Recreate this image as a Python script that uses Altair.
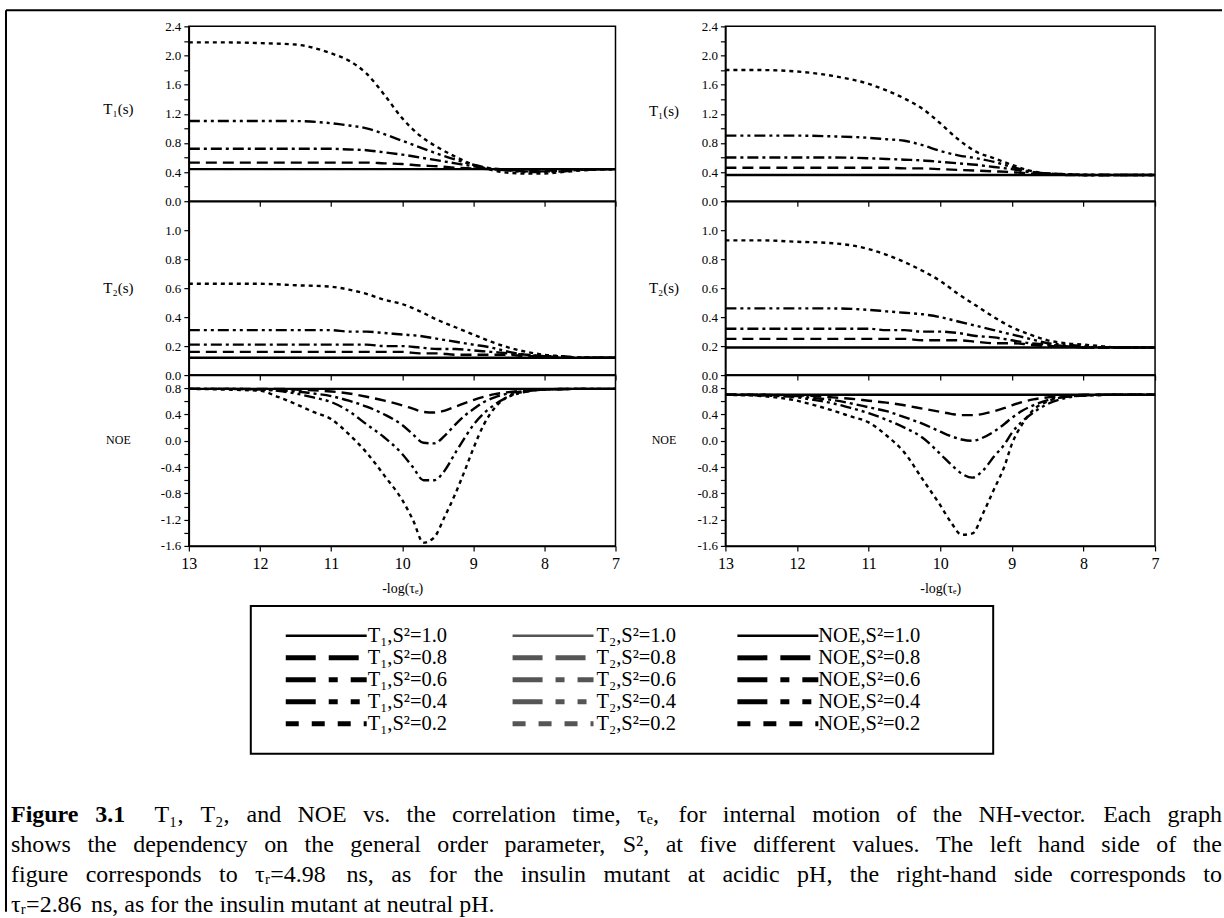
import altair as alt
import pandas as pd

FONT = "Liberation Serif"

# ---------------- data ----------------
S2_LEVELS = ["1.0", "0.8", "0.6", "0.4", "0.2"]
X_TICKS = [13, 12, 11, 10, 9, 8, 7]

# x grid for T1 / T2 panels: -log(tau_e)
X_T = [13, 12.5, 12, 11.5, 11, 10.75, 10.5, 10.25, 10, 9.75, 9.5, 9.25, 9, 8.75, 8.5, 8.25, 8, 7.75, 7.5, 7]
# x grid for NOE panels
X_N = [13, 12.5, 12, 11.75, 11.5, 11.25, 11, 10.75, 10.5, 10.25, 10, 9.85, 9.7, 9.55, 9.4, 9.25, 9.1, 9, 8.85, 8.7, 8.5, 8.25, 8, 7.5, 7]

# Left side (tau_r = 4.98 ns) -- T1 (s)
L_T1_10 = [0.44, 0.44, 0.44, 0.44, 0.44, 0.44, 0.44, 0.44, 0.44, 0.44, 0.44, 0.44, 0.44, 0.44, 0.44, 0.44, 0.44, 0.44, 0.44, 0.44]
L_T1_08 = [0.53, 0.53, 0.53, 0.53, 0.53, 0.53, 0.53, 0.52, 0.51, 0.49, 0.48, 0.46, 0.45, 0.44, 0.43, 0.42, 0.42, 0.43, 0.44, 0.44]
L_T1_06 = [0.72, 0.72, 0.72, 0.72, 0.72, 0.71, 0.70, 0.67, 0.64, 0.60, 0.56, 0.52, 0.48, 0.45, 0.43, 0.41, 0.41, 0.42, 0.43, 0.44]
L_T1_04 = [1.10, 1.10, 1.10, 1.10, 1.07, 1.04, 1.00, 0.92, 0.83, 0.74, 0.65, 0.57, 0.50, 0.45, 0.42, 0.40, 0.40, 0.41, 0.43, 0.44]
L_T1_02 = [2.18, 2.18, 2.17, 2.15, 2.03, 1.93, 1.75, 1.46, 1.14, 0.90, 0.74, 0.61, 0.50, 0.43, 0.39, 0.38, 0.38, 0.40, 0.42, 0.44]

# Left side -- T2 (s)
L_T2_10 = [0.12, 0.12, 0.12, 0.12, 0.12, 0.12, 0.12, 0.12, 0.12, 0.12, 0.12, 0.12, 0.12, 0.12, 0.12, 0.12, 0.12, 0.12, 0.12, 0.12]
L_T2_08 = [0.16, 0.16, 0.16, 0.16, 0.16, 0.16, 0.16, 0.16, 0.16, 0.15, 0.15, 0.14, 0.14, 0.14, 0.14, 0.13, 0.13, 0.12, 0.12, 0.12]
L_T2_06 = [0.21, 0.21, 0.21, 0.21, 0.21, 0.21, 0.21, 0.20, 0.20, 0.19, 0.18, 0.18, 0.17, 0.16, 0.15, 0.14, 0.13, 0.13, 0.12, 0.12]
L_T2_04 = [0.31, 0.31, 0.31, 0.31, 0.31, 0.30, 0.30, 0.29, 0.28, 0.27, 0.25, 0.23, 0.21, 0.19, 0.16, 0.14, 0.13, 0.12, 0.12, 0.12]
L_T2_02 = [0.63, 0.63, 0.63, 0.62, 0.61, 0.59, 0.56, 0.52, 0.49, 0.44, 0.38, 0.33, 0.28, 0.23, 0.19, 0.16, 0.14, 0.13, 0.12, 0.12]

# Left side -- NOE
L_N_10 = [0.79, 0.79, 0.79, 0.79, 0.79, 0.79, 0.79, 0.79, 0.79, 0.79, 0.79, 0.79, 0.79, 0.79, 0.79, 0.79, 0.79, 0.79, 0.79, 0.79, 0.79, 0.79, 0.79, 0.79, 0.79]
L_N_08 = [0.79, 0.79, 0.79, 0.79, 0.78, 0.77, 0.75, 0.72, 0.67, 0.61, 0.54, 0.49, 0.44, 0.43, 0.46, 0.52, 0.58, 0.62, 0.67, 0.71, 0.74, 0.77, 0.78, 0.79, 0.79]
L_N_06 = [0.79, 0.79, 0.78, 0.77, 0.75, 0.72, 0.68, 0.61, 0.52, 0.40, 0.24, 0.10, -0.03, -0.04, 0.08, 0.25, 0.40, 0.48, 0.59, 0.66, 0.72, 0.76, 0.78, 0.79, 0.79]
L_N_04 = [0.79, 0.79, 0.78, 0.76, 0.72, 0.66, 0.59, 0.45, 0.25, 0.05, -0.20, -0.40, -0.60, -0.60, -0.45, -0.18, 0.08, 0.24, 0.42, 0.55, 0.67, 0.75, 0.78, 0.79, 0.79]
L_N_02 = [0.79, 0.78, 0.76, 0.67, 0.56, 0.44, 0.33, 0.10, -0.18, -0.53, -0.90, -1.20, -1.55, -1.47, -1.15, -0.80, -0.40, -0.12, 0.25, 0.50, 0.68, 0.75, 0.78, 0.79, 0.79]

# Right side (tau_r = 2.86 ns) -- T1 (s)
R_T1_10 = [0.36, 0.36, 0.36, 0.36, 0.36, 0.36, 0.36, 0.36, 0.36, 0.36, 0.36, 0.36, 0.36, 0.36, 0.36, 0.36, 0.36, 0.36, 0.36, 0.36]
R_T1_08 = [0.46, 0.46, 0.46, 0.46, 0.46, 0.46, 0.45, 0.45, 0.44, 0.43, 0.42, 0.41, 0.40, 0.38, 0.37, 0.36, 0.36, 0.36, 0.36, 0.36]
R_T1_06 = [0.60, 0.60, 0.60, 0.60, 0.59, 0.58, 0.57, 0.56, 0.54, 0.52, 0.50, 0.47, 0.44, 0.40, 0.38, 0.37, 0.36, 0.36, 0.36, 0.36]
R_T1_04 = [0.90, 0.90, 0.90, 0.89, 0.87, 0.85, 0.83, 0.77, 0.69, 0.63, 0.59, 0.54, 0.47, 0.41, 0.38, 0.37, 0.36, 0.36, 0.36, 0.36]
R_T1_02 = [1.80, 1.80, 1.78, 1.72, 1.61, 1.52, 1.41, 1.27, 1.07, 0.85, 0.68, 0.59, 0.50, 0.42, 0.38, 0.37, 0.36, 0.36, 0.36, 0.36]

# Right side -- T2 (s)
R_T2_10 = [0.19, 0.19, 0.19, 0.19, 0.19, 0.19, 0.19, 0.19, 0.19, 0.19, 0.19, 0.19, 0.19, 0.19, 0.19, 0.19, 0.19, 0.19, 0.19, 0.19]
R_T2_08 = [0.25, 0.25, 0.25, 0.25, 0.25, 0.25, 0.25, 0.24, 0.24, 0.24, 0.23, 0.22, 0.22, 0.21, 0.20, 0.20, 0.19, 0.19, 0.19, 0.19]
R_T2_06 = [0.32, 0.32, 0.32, 0.32, 0.32, 0.31, 0.31, 0.30, 0.30, 0.29, 0.27, 0.26, 0.24, 0.22, 0.21, 0.20, 0.19, 0.19, 0.19, 0.19]
R_T2_04 = [0.46, 0.46, 0.46, 0.46, 0.45, 0.44, 0.43, 0.42, 0.40, 0.37, 0.34, 0.31, 0.28, 0.25, 0.22, 0.21, 0.20, 0.19, 0.19, 0.19]
R_T2_02 = [0.93, 0.93, 0.92, 0.91, 0.87, 0.83, 0.78, 0.72, 0.65, 0.56, 0.48, 0.40, 0.33, 0.28, 0.24, 0.22, 0.21, 0.20, 0.19, 0.19]

# Right side -- NOE
R_N_10 = [0.70, 0.70, 0.70, 0.70, 0.70, 0.70, 0.70, 0.70, 0.70, 0.70, 0.70, 0.70, 0.70, 0.70, 0.70, 0.70, 0.70, 0.70, 0.70, 0.70, 0.70, 0.70, 0.70, 0.70, 0.70]
R_N_08 = [0.70, 0.70, 0.69, 0.68, 0.66, 0.64, 0.61, 0.58, 0.54, 0.49, 0.44, 0.41, 0.39, 0.39, 0.41, 0.45, 0.50, 0.54, 0.59, 0.63, 0.66, 0.68, 0.70, 0.70, 0.70]
R_N_06 = [0.70, 0.70, 0.68, 0.65, 0.62, 0.57, 0.51, 0.45, 0.36, 0.26, 0.14, 0.07, 0.02, 0.00, 0.05, 0.14, 0.26, 0.35, 0.46, 0.54, 0.62, 0.67, 0.69, 0.70, 0.70]
R_N_04 = [0.70, 0.69, 0.66, 0.62, 0.57, 0.50, 0.42, 0.32, 0.20, 0.05, -0.20, -0.36, -0.50, -0.56, -0.45, -0.24, -0.05, 0.12, 0.30, 0.43, 0.56, 0.65, 0.69, 0.70, 0.70]
R_N_02 = [0.70, 0.68, 0.61, 0.54, 0.46, 0.37, 0.28, 0.08, -0.18, -0.58, -0.98, -1.24, -1.43, -1.41, -1.10, -0.74, -0.38, -0.05, 0.26, 0.47, 0.60, 0.67, 0.69, 0.70, 0.70]

# axis values
T1_VALUES = [0.0, 0.2, 0.4, 0.6, 0.8, 1.0, 1.2, 1.4, 1.6, 1.8, 2.0, 2.2, 2.4]
T2_VALUES = [0.0, 0.2, 0.4, 0.6, 0.8, 1.0]
NOE_VALUES = [-1.6, -1.4, -1.2, -1.0, -0.8, -0.6, -0.4, -0.2, 0.0, 0.2, 0.4, 0.6, 0.8]

# legend + caption text
LEG_NAMES = ["T\u2081", "T\u2082", "NOE"]
CAPTION_BOLD = "Figure 3.1"
CAPTION_LINES = [
    "T\u2081, T\u2082, and NOE vs. the correlation time, \u03c4\u2091, for internal motion of the NH-vector. Each graph",
    "shows the dependency on the general order parameter, S\u00b2, at five different values. The left hand side of the",
    "figure corresponds to \u03c4\u1d63=4.98 ns, as for the insulin mutant at acidic pH, the right-hand side corresponds to",
    "\u03c4\u1d63=2.86 ns, as for the insulin mutant at neutral pH.",
]
CAPTION_JUSTIFIED = [True, True, True, False]

# ---------------- helpers ----------------
ONE = pd.DataFrame({"a": [0]})


def make_df(xs, series):
    rows = []
    for s2, vals in zip(S2_LEVELS, series):
        for x, v in zip(xs, vals):
            rows.append({"x": x, "v": v, "S2": s2})
    return pd.DataFrame(rows)


DASH = alt.Scale(domain=S2_LEVELS,
                 range=[[1, 0], [11, 6], [11, 4, 3, 4], [11, 4, 3, 4, 3, 4], [4, 4]])

LABEL4 = ("(abs(round(datum.value*10)) % 4 == 0) ? "
          "((datum.value < -0.001 ? '-' : '') + format(abs(datum.value), '.1f')) : ''")
LABEL2 = "(datum.value < -0.001 ? '-' : '') + format(abs(datum.value), '.1f')"


def panel(df, ydom, yvals, lexpr, title, tsize, tx, ty, w, h, show_x):
    xkw = dict(values=X_TICKS, tickSize=5, tickColor="black", tickWidth=1.2,
               domainColor="black", domainWidth=1.5, grid=False, labelFlush=False,
               labelOverlap=False, format="d")
    if show_x:
        xkw.update(labels=True, labelFont=FONT, labelFontSize=16, labelColor="black",
                   labelPadding=5, title="-log(\u03c4\u2091)", titleFont=FONT,
                   titleFontSize=14, titleFontWeight="normal", titleColor="black",
                   titlePadding=10)
    else:
        xkw.update(labels=False, title="")
    ykw = dict(values=yvals, labelExpr=lexpr, tickSize=5, tickColor="black",
               tickWidth=1.2, domainColor="black", domainWidth=1.5, grid=False,
               labelFont=FONT, labelFontSize=13, labelColor="black", labelPadding=3,
               labelOverlap=False, labelFlush=False,
               title=title, titleAngle=0, titleX=tx, titleY=ty, titleAlign="center",
               titleBaseline="middle", titleFont=FONT, titleFontSize=tsize,
               titleFontWeight="normal", titleColor="black")
    return alt.Chart(df).mark_line(color="black", strokeWidth=2.4,
                                   interpolate="monotone").encode(
        x=alt.X("x:Q", scale=alt.Scale(domain=[7, 13], reverse=True, nice=False, zero=False),
                axis=alt.Axis(**xkw)),
        y=alt.Y("v:Q", scale=alt.Scale(domain=ydom, nice=False, zero=False),
                axis=alt.Axis(**ykw)),
        strokeDash=alt.StrokeDash("S2:N", scale=DASH, legend=None),
        detail="S2:N",
    ).properties(width=w, height=h)


def spacer(w, h):
    return alt.Chart(ONE).mark_point(opacity=0).encode(
        x=alt.value(0), y=alt.value(0)
    ).properties(width=w, height=h, view=alt.ViewBackground(strokeOpacity=0))


WL, WR = 427, 430
H1, H2, H3 = 175, 174, 171

t1l = panel(make_df(X_T, [L_T1_10, L_T1_08, L_T1_06, L_T1_04, L_T1_02]), [0, 2.4], T1_VALUES,
            LABEL4, "T\u2081(s)", 15, -71, 82, WL, H1, False)
frame_top = alt.Chart(ONE).mark_rule(color="black", strokeWidth=2).encode(
    x=alt.value(-183), x2=alt.value(1034), y=alt.value(-16))
t1l = alt.layer(t1l, frame_top)
t2l = panel(make_df(X_T, [L_T2_10, L_T2_08, L_T2_06, L_T2_04, L_T2_02]), [0, 1.2], T2_VALUES,
            LABEL2, "T\u2082(s)", 15, -71, 86, WL, H2, False)
nol = panel(make_df(X_N, [L_N_10, L_N_08, L_N_06, L_N_04, L_N_02]), [-1.6, 1.0], NOE_VALUES,
            LABEL4, "NOE", 12, -71, 64, WL, H3, True)

t1r = panel(make_df(X_T, [R_T1_10, R_T1_08, R_T1_06, R_T1_04, R_T1_02]), [0, 2.4], T1_VALUES,
            LABEL4, "T\u2081(s)", 15, -62, 84, WR, H1, False)
t2r = panel(make_df(X_T, [R_T2_10, R_T2_08, R_T2_06, R_T2_04, R_T2_02]), [0, 1.2], T2_VALUES,
            LABEL2, "T\u2082(s)", 15, -62, 86, WR, H2, False)
nor = panel(make_df(X_N, [R_N_10, R_N_08, R_N_06, R_N_04, R_N_02]), [-1.6, 1.0], NOE_VALUES,
            LABEL4, "NOE", 12, -62, 64, WR, H3, True)

# ---------------- legend ----------------
LEG_LINE_X0 = [97, 324, 549]
LEG_TEXT_X = [179, 408, 630]
LEG_LINE_LEN = 81
leg_rows = []
for c, name in enumerate(LEG_NAMES):
    for r, s2 in enumerate(S2_LEVELS):
        leg_rows.append({"col": c, "row": r, "S2": s2,
                         "label": f"{name},S\u00b2={s2}",
                         "x0": LEG_LINE_X0[c], "x1": LEG_LINE_X0[c] + LEG_LINE_LEN,
                         "xt": LEG_TEXT_X[c], "shade": "g" if c == 1 else "k"})
leg_df = pd.DataFrame(leg_rows)
LEG_DASH = {"1.0": [1, 0], "0.8": [30, 13], "0.6": [30, 13, 9, 13],
            "0.4": [30, 13, 9, 13, 9, 13], "0.2": [13, 13]}
LEG_W = {"1.0": 2.5, "0.8": 5, "0.6": 5, "0.4": 5, "0.2": 5}
lx = alt.Scale(domain=[0, 805], range=[0, 805], nice=False, zero=False)
ly = alt.Scale(domain=[0, 4], range=[30, 118], nice=False, zero=False)
leg_layers = []
for s2 in S2_LEVELS:
    leg_layers.append(
        alt.Chart(leg_df).transform_filter(alt.datum.S2 == s2).mark_rule(
            strokeDash=LEG_DASH[s2], strokeWidth=LEG_W[s2]).encode(
            x=alt.X("x0:Q", scale=lx, axis=None), x2="x1:Q",
            y=alt.Y("row:Q", scale=ly, axis=None),
            color=alt.Color("shade:N", scale=alt.Scale(domain=["k", "g"], range=["#000000", "#555555"]),
                            legend=None)))
leg_text = alt.Chart(leg_df).mark_text(align="left", baseline="middle", font=FONT,
                                       fontSize=20.5, color="black").encode(
    x=alt.X("xt:Q", scale=lx, axis=None), y=alt.Y("row:Q", scale=ly, axis=None), text="label:N")
leg_box = alt.Chart(ONE).mark_rect(stroke="black", strokeWidth=2, fillOpacity=0).encode(
    x=alt.value(62), x2=alt.value(805), y=alt.value(0), y2=alt.value(148))
legend = alt.layer(leg_box, *leg_layers, leg_text).properties(
    width=WL, height=148, view=alt.ViewBackground(strokeOpacity=0))

# ---------------- caption (justified word by word) ----------------
CAP_SIZE = 24
CAP_LEFT, CAP_RIGHT = -178, 1034   # relative to the left plot's axis
# Times New Roman advance widths (1/1000 em)
REG_W = {" ": 250, ",": 250, ".": 250, "-": 333, "=": 564, "(": 333, ")": 333,
         "a": 444, "b": 500, "c": 444, "d": 500, "e": 444, "f": 333, "g": 500, "h": 500,
         "i": 278, "j": 278, "k": 500, "l": 278, "m": 778, "n": 500, "o": 500, "p": 500,
         "q": 500, "r": 333, "s": 389, "t": 278, "u": 500, "v": 500, "w": 722, "x": 500,
         "y": 500, "z": 444, "E": 611, "F": 556, "H": 722, "N": 722, "O": 722, "S": 556,
         "T": 611, "\u03c4": 440, "\u2081": 380, "\u2082": 380, "\u2091": 360,
         "\u1d63": 330, "\u00b2": 300}
BOLD_W = {"F": 611, "i": 278, "g": 500, "u": 556, "r": 444, "e": 444, "3": 500,
          ".": 250, "1": 500}


def text_width(s, bold):
    tbl = BOLD_W if bold else REG_W
    return sum(tbl.get(ch, 500) for ch in s) * CAP_SIZE / 1000.0


word_rows = []
for li, (line, just) in enumerate(zip(CAPTION_LINES, CAPTION_JUSTIFIED)):
    toks = [(w, False) for w in line.split(" ")]
    weights = [1.0] * (len(toks) - 1)
    if li == 0:
        toks = [(w, True) for w in CAPTION_BOLD.split(" ")] + toks
        weights = [1.0, 1.8] + weights
    widths = [text_width(t, b) for t, b in toks]
    if just:
        gap_unit = (CAP_RIGHT - CAP_LEFT - sum(widths)) / sum(weights)
    else:
        gap_unit = 0.25 * CAP_SIZE
    x = CAP_LEFT
    for k, ((t, b), w) in enumerate(zip(toks, widths)):
        word_rows.append({"line": li, "x": x, "t": t, "bold": "b" if b else "r"})
        if k < len(weights):
            x += w + gap_unit * weights[k]
words = pd.DataFrame(word_rows)

cx = alt.Scale(domain=[CAP_LEFT, CAP_RIGHT], range=[CAP_LEFT, CAP_RIGHT], nice=False, zero=False)
cy = alt.Scale(domain=[0, 3], range=[61, 151.5], nice=False, zero=False)
cap_reg = alt.Chart(words).transform_filter(alt.datum.bold == "r").mark_text(
    align="left", baseline="middle", font=FONT, fontSize=CAP_SIZE, color="black").encode(
    x=alt.X("x:Q", scale=cx, axis=None), y=alt.Y("line:Q", scale=cy, axis=None), text="t:N")
cap_bold = alt.Chart(words).transform_filter(alt.datum.bold == "b").mark_text(
    align="left", baseline="middle", font=FONT, fontSize=CAP_SIZE, fontWeight="bold",
    color="black").encode(
    x=alt.X("x:Q", scale=cx, axis=None), y=alt.Y("line:Q", scale=cy, axis=None), text="t:N")
frame_left = alt.Chart(ONE).mark_rule(color="black", strokeWidth=2).encode(
    x=alt.value(-183), y=alt.value(-744), y2=alt.value(158))
caption = alt.layer(frame_left, cap_bold, cap_reg).properties(
    width=WL, height=158, view=alt.ViewBackground(strokeOpacity=0))

chart = alt.concat(
    t1l, t1r,
    t2l, t2r,
    nol, nor,
    spacer(WL, 60), spacer(WR, 60),
    legend, spacer(WR, 148),
    caption, spacer(WR, 158),
    columns=2,
    spacing=alt.RowColnumber(row=0, column=110),
    bounds="flush",
).properties(
    padding={"left": 4, "top": 8, "right": 0, "bottom": 0},
    background="white",
).configure_view(stroke="black", strokeWidth=1.5)

chart.save("out.html", embed_options={"renderer": "svg", "actions": False})
